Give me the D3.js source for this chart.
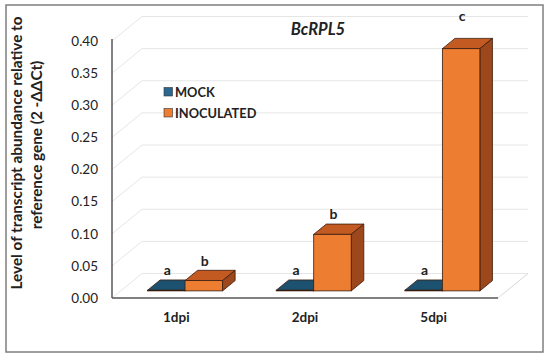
<!DOCTYPE html>
<html>
<head>
<meta charset="utf-8">
<script src="https://cdn.jsdelivr.net/npm/d3@7"></script>
<style>
  html, body { margin: 0; padding: 0; background: #fff; }
  svg { display: block; }
  text { font-family: Lato, "Open Sans", sans-serif; }
</style>
</head>
<body>
<svg id="chart" width="550" height="360"></svg>
<script>
// ---- data ----
const categories = ["1dpi", "2dpi", "5dpi"];
const seriesNames = ["MOCK", "INOCULATED"];
const mockValues = [0.001, 0.001, 0.001];
const inoculatedValues = [0.016, 0.088, 0.377];
const mockLetters = ["a", "a", "a"];
const inoculatedLetters = ["b", "b", "c"];
const yTicks = [0.00, 0.05, 0.10, 0.15, 0.20, 0.25, 0.30, 0.35, 0.40];
const title = "BcRPL5";
const yTitleLines = ["Level of transcript abundance relative to", "reference gene (2 -ΔΔCt)"];

// ---- layout ----
const svg = d3.select("#chart");
const left = 112, right = 498, y0px = 298, yTopPx = 41;
const depth = { dx: 30, dy: -24.5 };
const d1 = 0.29, d2 = 0.71;
const s1 = { x: depth.dx * d1, y: depth.dy * d1 };
const s2 = { x: depth.dx * d2, y: depth.dy * d2 };

const colors = {
  MOCK: { front: "#1f5b82", top: "#1d5170", side: "#163f58", legend: "#2a6892" },
  INOCULATED: { front: "#ed7d31", top: "#c25a22", side: "#9c471c", legend: "#ed7d31" }
};

const x0 = d3.scaleBand().domain(categories).range([left, right]).padding(0);
const groupW = 75;
const x1 = d3.scaleBand().domain(seriesNames)
  .range([x0.bandwidth() / 2 - groupW / 2, x0.bandwidth() / 2 + groupW / 2]);
const y = d3.scaleLinear().domain([0, 0.4]).range([y0px, yTopPx]);

// outer border
svg.append("rect").attr("x", 6).attr("y", 5).attr("width", 537).attr("height", 347)
  .attr("fill", "#fff").attr("stroke", "#7f7f7f").attr("stroke-width", 1.5);

// back wall gridlines + left wall diagonals
const grid = svg.append("g");
yTicks.forEach(t => {
  const yy = y(t);
  grid.append("line")
    .attr("x1", left + depth.dx).attr("x2", right + depth.dx)
    .attr("y1", yy + depth.dy).attr("y2", yy + depth.dy)
    .attr("stroke", "#e6e6e6").attr("stroke-width", 1);
  grid.append("line")
    .attr("x1", left).attr("x2", left + depth.dx)
    .attr("y1", yy).attr("y2", yy + depth.dy)
    .attr("stroke", "#e6e6e6").attr("stroke-width", 1);
});
// floor right edge
grid.append("line")
  .attr("x1", right).attr("y1", y(0))
  .attr("x2", right + depth.dx).attr("y2", y(0) + depth.dy)
  .attr("stroke", "#d9d9d9").attr("stroke-width", 1);

// front floor edge & y-axis
svg.append("line").attr("x1", left).attr("x2", right).attr("y1", y(0)).attr("y2", y(0))
  .attr("stroke", "#808080").attr("stroke-width", 2);
svg.append("line").attr("x1", left).attr("x2", left).attr("y1", y(0.4) - 2).attr("y2", y(0))
  .attr("stroke", "#595959").attr("stroke-width", 1.5);

// y tick labels
const yAxis = d3.axisLeft(y).tickValues(yTicks).tickFormat(d3.format(".2f")).tickSize(0).tickPadding(14);
const ya = svg.append("g").attr("transform", `translate(${left},0)`).call(yAxis);
ya.select(".domain").remove();
ya.selectAll("text").attr("font-size", 13.5).attr("fill", "#222")
  .style("font-family", "Lato, 'Open Sans', sans-serif");

// x category labels
categories.forEach(c => {
  svg.append("text").attr("x", x0(c) + x0.bandwidth() / 2).attr("y", 322)
    .attr("text-anchor", "middle").attr("font-size", 13.5).attr("font-weight", "bold")
    .attr("fill", "#222").text(c);
});

// bars
function bar3d(g, xl, w, v, col) {
  const yv = y(v), yb = y(0);
  const stroke = "#3a1c0c";
  g.append("polygon").attr("points", [
    [xl + s1.x, yv + s1.y], [xl + w + s1.x, yv + s1.y],
    [xl + w + s2.x, yv + s2.y], [xl + s2.x, yv + s2.y]].map(p => p.join(",")).join(" "))
    .attr("fill", col.top).attr("stroke", stroke).attr("stroke-width", 0.8).attr("stroke-linejoin", "round");
  g.append("polygon").attr("points", [
    [xl + w + s1.x, yv + s1.y], [xl + w + s2.x, yv + s2.y],
    [xl + w + s2.x, yb + s2.y], [xl + w + s1.x, yb + s1.y]].map(p => p.join(",")).join(" "))
    .attr("fill", col.side).attr("stroke", stroke).attr("stroke-width", 0.8).attr("stroke-linejoin", "round");
  g.append("rect").attr("x", xl + s1.x).attr("y", yv + s1.y)
    .attr("width", w).attr("height", Math.max(0, yb - yv))
    .attr("fill", col.front).attr("stroke", stroke).attr("stroke-width", 0.8);
}

const bars = svg.append("g");
const labels = svg.append("g");
const maxVal = d3.max(inoculatedValues);
categories.forEach((c, i) => {
  const vals = [mockValues[i], inoculatedValues[i]];
  const lets = [mockLetters[i], inoculatedLetters[i]];
  seriesNames.forEach((s, j) => {
    const xl = x0(c) + x1(s);
    const w = x1.bandwidth();
    bar3d(bars, xl, w, vals[j], colors[s]);
    const extra = vals[j] === maxVal ? 13 : 0;
    labels.append("text")
      .attr("x", xl + s1.x + w / 2 + 1)
      .attr("y", y(vals[j]) + s1.y - 15 - extra)
      .attr("text-anchor", "middle").attr("font-size", 14).attr("font-weight", "bold")
      .attr("fill", "#222").text(lets[j]);
  });
});

// title
svg.append("text").attr("x", 318).attr("y", 35).attr("text-anchor", "middle")
  .attr("font-size", 16.5).attr("font-weight", "bold").attr("font-style", "italic")
  .attr("fill", "#222").text(title);

// legend
const leg = svg.append("g");
seriesNames.forEach((s, i) => {
  const ly = 92 + i * 21;
  leg.append("rect").attr("x", 164).attr("y", ly - 4.5).attr("width", 8.5).attr("height", 8.5)
    .attr("fill", colors[s].legend).attr("stroke", "#333").attr("stroke-width", 0.6);
  leg.append("text").attr("x", 175).attr("y", ly + 4.8).attr("font-size", 12.8)
    .attr("font-weight", "bold").attr("fill", "#222").text(s);
});

// y axis title
const yCenters = [153, 145];
const yXs = [22, 41.5];
yTitleLines.forEach((line, i) => {
  svg.append("text")
    .attr("transform", `translate(${yXs[i]},${yCenters[i]}) rotate(-90)`)
    .attr("text-anchor", "middle").attr("font-size", 15.3).attr("font-weight", "bold")
    .attr("fill", "#222").text(line);
});
</script>
</body>
</html>
